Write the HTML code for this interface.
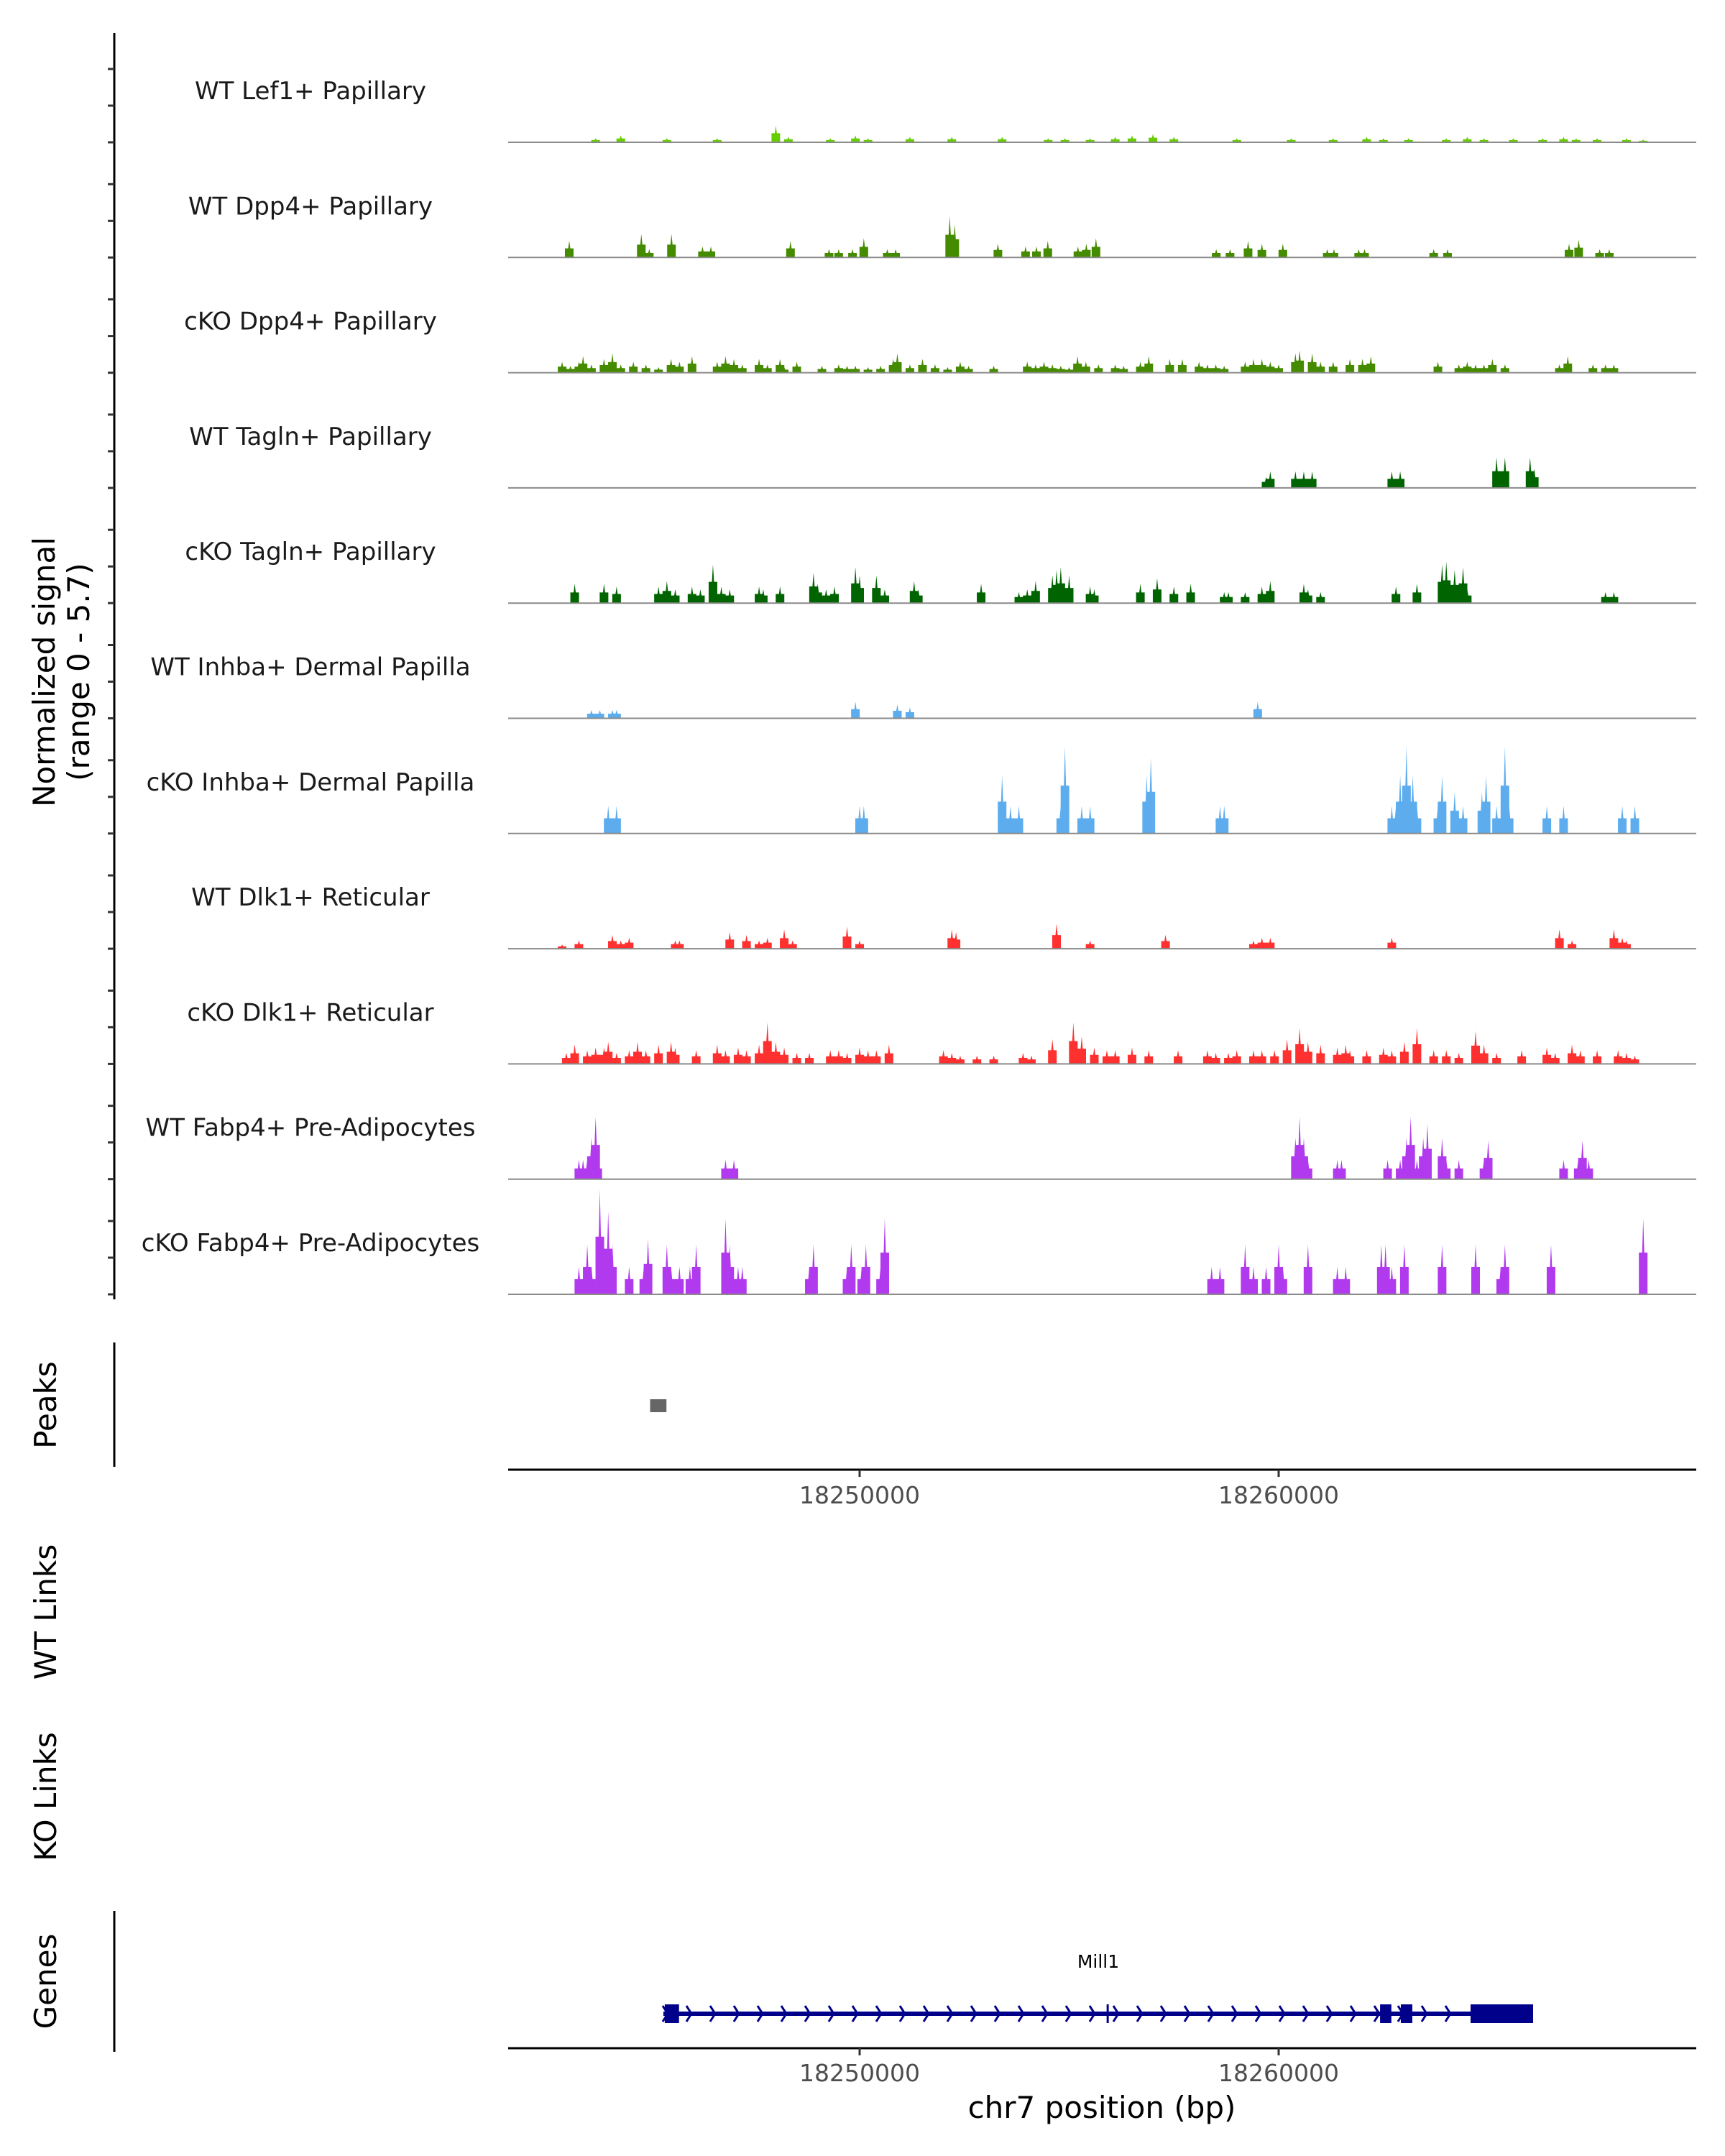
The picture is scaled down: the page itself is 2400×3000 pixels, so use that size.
<!DOCTYPE html>
<html><head><meta charset="utf-8">
<style>
html,body{margin:0;padding:0;background:#fff;}
svg{display:block;font-family:"DejaVu Sans","Liberation Sans",sans-serif;}
</style></head>
<body>
<svg id="chart" width="2400" height="3000" viewBox="0 0 2400 3000" xmlns="http://www.w3.org/2000/svg">
<g id="tracks"></g>
<line x1="159" y1="46" x2="159" y2="1808" stroke="#000" stroke-width="3"/>
<g id="yticks"></g>
<text transform="translate(76,935) rotate(-90)" text-anchor="middle" font-size="42" fill="#000">Normalized signal</text>
<text transform="translate(124,935) rotate(-90)" text-anchor="middle" font-size="42" fill="#000">(range 0 - 5.7)</text>

<line x1="159" y1="1868" x2="159" y2="2041" stroke="#000" stroke-width="3"/>
<text transform="translate(78,1955) rotate(-90)" text-anchor="middle" font-size="42">Peaks</text>
<g id="peaks"></g>
<line x1="707" y1="2045" x2="2360" y2="2045" stroke="#000" stroke-width="3"/>
<g id="xticks1"></g>

<text transform="translate(78,2243) rotate(-90)" text-anchor="middle" font-size="42">WT Links</text>
<text transform="translate(78,2500) rotate(-90)" text-anchor="middle" font-size="42">KO Links</text>

<line x1="159" y1="2659" x2="159" y2="2855" stroke="#000" stroke-width="3"/>
<text transform="translate(78,2757) rotate(-90)" text-anchor="middle" font-size="42">Genes</text>
<g id="genes"></g>
<line x1="707" y1="2850" x2="2360" y2="2850" stroke="#000" stroke-width="3"/>
<g id="xticks2"></g>
<text x="1533" y="2947" text-anchor="middle" font-size="42">chr7 position (bp)</text>
</svg>
<script>
// genomic positions in kb, signal heights in normalized units (0-78 ~ range 0-5.7)
const trackNames = ["WT Lef1+ Papillary","WT Dpp4+ Papillary","cKO Dpp4+ Papillary","WT Tagln+ Papillary","cKO Tagln+ Papillary","WT Inhba+ Dermal Papilla","cKO Inhba+ Dermal Papilla","WT Dlk1+ Reticular","cKO Dlk1+ Reticular","WT Fabp4+ Pre-Adipocytes","cKO Fabp4+ Pre-Adipocytes"];
const trackColors = ["#66cd00","#458b00","#458b00","#006400","#006400","#5cacee","#5cacee","#ff3030","#ff3030","#b23aee","#b23aee"];
const pos0 = [-6.3,-5.7,-4.6,-3.4,-2.0,-1.7,-0.7,-0.1,0.2,1.2,2.2,3.4,4.5,4.9,5.5,6.1,6.5,7.0,7.5,9.0,10.3,11.3,12.1,12.5,13.1,14.0,14.5,14.9,15.6,16.3,16.8,17.1,17.6,18.3,18.7];
const sig0 = [3,5,3,3,12,4,3,5,3,4,4,4,3,3,3,4,5,6,4,3,3,3,4,3,3,3,4,3,3,3,4,3,3,3,2];
const pos1 = [-6.93,-5.21,-5.02,-4.49,-3.75,-3.55,-1.65,-0.73,-0.5,-0.17,0.1,0.66,0.86,2.15,2.27,3.3,3.96,4.22,4.49,5.21,5.41,5.64,8.51,8.84,9.27,9.6,10.1,11.16,11.32,11.91,12.05,13.7,14.03,16.93,17.16,17.66,17.89];
const sig1 = [12,17,6,17,8,8,12,6,6,6,14,6,6,30,24,10,8,8,12,8,10,14,6,6,12,10,10,6,6,6,6,6,6,10,13,6,6];
const pos2 = [-7.1,-6.9,-6.7,-6.6,-6.4,-6.1,-5.9,-5.7,-5.4,-5.1,-4.8,-4.5,-4.3,-4.0,-3.4,-3.2,-3.0,-2.8,-2.4,-2.2,-1.9,-1.8,-1.5,-0.9,-0.5,-0.3,-0.1,0.2,0.5,0.8,0.9,1.2,1.5,1.8,2.1,2.4,2.6,3.2,4.0,4.2,4.4,4.6,4.8,5.0,5.2,5.4,5.7,6.1,6.3,6.7,6.9,7.4,7.7,8.1,8.3,8.5,8.7,9.2,9.4,9.6,9.8,10.0,10.4,10.5,10.8,11.0,11.3,11.7,12.0,12.2,13.8,14.3,14.5,14.7,14.9,15.1,15.4,16.7,16.9,17.5,17.8,18.0];
const sig2 = [8,5,8,12,6,10,14,6,8,6,4,10,8,12,8,12,10,6,10,6,10,4,8,5,6,5,5,4,5,10,14,6,10,6,4,8,5,5,8,6,8,6,5,4,12,8,6,6,5,8,12,10,10,8,6,6,5,8,10,10,8,6,14,16,14,8,8,10,10,12,8,6,8,6,6,10,6,6,12,6,6,6];
const pos3 = [9.7,9.8,10.4,10.6,10.8,12.7,12.9,15.2,15.4,16.0,16.1];
const sig3 = [8,12,12,12,12,12,12,22,22,22,14];
const pos4 = [-6.8,-6.1,-5.8,-4.8,-4.6,-4.4,-4.0,-3.8,-3.5,-3.3,-3.1,-2.4,-2.3,-1.9,-1.1,-1.0,-0.8,-0.6,-0.1,0.0,0.4,0.6,1.3,1.4,2.9,3.8,4.0,4.2,4.6,4.7,4.8,5.0,5.5,5.6,6.7,7.1,7.5,7.9,8.7,8.8,9.2,9.6,9.8,10.6,10.7,11.0,12.8,13.3,13.9,14.0,14.2,14.4,14.5,17.8,18.0];
const sig4 = [14,14,12,12,16,10,12,10,28,12,10,12,10,12,22,14,10,12,26,20,20,10,16,10,14,8,10,16,20,24,26,20,12,10,14,18,12,14,8,8,8,12,16,14,10,8,12,14,28,30,24,26,10,8,8];
const pos5 = [-6.4,-6.2,-5.9,-5.8,-0.1,0.9,1.2,9.5];
const sig5 = [6,6,6,6,12,10,8,12];
const pos6 = [-6.0,-5.8,0.0,0.1,3.4,3.6,3.8,4.8,4.9,5.3,5.5,6.85,6.95,8.6,8.7,12.7,12.8,12.9,13.05,13.2,13.3,13.8,13.9,14.2,14.4,14.85,14.95,15.2,15.4,15.5,16.4,16.8,18.2,18.5];
const sig6 = [20,20,20,20,42,20,20,20,63,20,20,42,55,20,20,20,20,42,63,42,20,20,42,30,20,30,42,20,63,20,20,20,20,20];
const pos7 = [-7.1,-6.7,-5.9,-5.7,-5.5,-4.4,-4.3,-3.1,-2.7,-2.4,-2.2,-1.8,-1.6,-0.3,0.0,2.2,2.3,4.7,5.5,7.3,9.4,9.6,9.8,12.7,16.7,17.0,18.0,18.2,18.3];
const sig7 = [3,6,10,6,8,6,6,12,10,6,8,14,6,16,6,14,12,18,6,10,6,8,8,8,14,6,14,8,6];
const pos8 = [-7.0,-6.8,-6.5,-6.3,-6.1,-6.0,-5.8,-5.5,-5.3,-5.1,-4.8,-4.5,-4.4,-3.9,-3.4,-3.2,-2.9,-2.7,-2.4,-2.2,-2.0,-1.8,-1.5,-1.2,-0.7,-0.5,-0.3,0.0,0.2,0.4,0.7,2.0,2.2,2.4,2.8,3.2,3.9,4.1,4.6,5.1,5.3,5.6,5.9,6.1,6.5,6.9,7.6,8.3,8.5,8.8,9.0,9.4,9.6,9.9,10.2,10.5,10.7,11.0,11.4,11.6,11.7,12.1,12.5,12.7,13.0,13.3,13.7,14.0,14.3,14.7,14.9,15.2,15.8,16.4,16.6,17.0,17.2,17.6,18.1,18.3,18.5];
const sig8 = [8,14,10,12,12,16,8,10,16,10,14,16,12,10,14,10,12,10,14,30,16,12,8,8,10,10,8,12,10,10,14,10,8,6,6,6,8,6,18,30,20,12,10,10,12,10,10,10,8,8,10,10,10,10,18,26,16,14,12,14,10,10,12,10,16,26,10,10,8,24,14,8,10,12,8,14,10,10,10,8,6];
const pos9 = [-6.7,-6.6,-6.5,-6.4,-6.3,-6.25,-3.2,-3.0,10.4,10.5,10.6,10.7,11.4,11.5,12.6,12.9,13.05,13.15,13.3,13.45,13.55,13.9,14.0,14.3,14.9,15.0,16.8,17.15,17.25,17.4];
const sig9 = [14,14,14,30,45,14,14,14,30,45,30,14,14,14,14,14,30,45,14,30,40,30,14,14,14,28,14,14,28,14];
const pos10 = [-6.7,-6.5,-6.4,-6.2,-6.1,-6.0,-5.9,-5.5,-5.15,-5.05,-4.6,-4.5,-4.3,-4.05,-3.9,-3.2,-3.1,-2.9,-2.8,-1.2,-1.1,-0.3,-0.2,0.05,0.15,0.5,0.6,8.4,8.6,9.2,9.4,9.7,10.0,10.1,10.7,11.4,11.6,12.45,12.55,12.7,13.0,13.9,14.7,15.3,15.4,16.5,18.7];
const sig10 = [20,36,20,76,36,60,36,20,20,40,36,20,20,20,36,55,36,20,20,20,36,20,36,20,36,20,55,20,20,36,20,20,36,20,36,20,20,36,36,20,36,36,36,20,36,36,55];
const trackPos = [pos0,pos1,pos2,pos3,pos4,pos5,pos6,pos7,pos8,pos9,pos10];
const trackSig = [sig0,sig1,sig2,sig3,sig4,sig5,sig6,sig7,sig8,sig9,sig10];
const xTicks = [18250000,18260000];
const xTickLabels = ["18250000","18260000"];
const peakStart = [18245000];
const peakEnd = [18245390];
const geneName = "Mill1";
const geneStart = 18245317, geneEnd = 18266072;
const exonStart = [18245350,18262420,18262915,18264580];
const exonEnd = [18245690,18262690,18263190,18266072];
const geneMark = 18255920;

const NS = "http://www.w3.org/2000/svg";
function xbp(bp){ return 1196 + (bp - 18250000) * 0.0583; }
function xkb(kb){ return xbp(18250000 + kb * 1000); }
function base(i){ return 198 + i * 160.3; }
function ysig(v, i){ return base(i) - v * 1.92; }
function mk(tag, attrs, parent){ const e = document.createElementNS(NS, tag); for (const k in attrs) e.setAttribute(k, attrs[k]); parent.appendChild(e); return e; }

const gT = document.getElementById('tracks');
const gY = document.getElementById('yticks');
for (let i = 0; i < trackNames.length; i++) {
  const g = mk('g', {}, gT);
  
  
  const lab = mk('text', {x: 432, y: base(i) - 60, 'text-anchor': 'middle', 'font-size': 34, fill: '#1a1a1a'}, g);
  lab.textContent = trackNames[i];
  
  
  const ps = trackPos[i], ss = trackSig[i];
  for (let j = 0; j < ps.length; j++) {
    const x = xkb(ps[j]), b = base(i), top = ysig(ss[j], i), mid = ysig(ss[j] * 0.55, i), w = 12;
    const p = mk('polygon', {points: `${x-w/2},${b} ${x-w/2},${mid} ${x-1.5},${mid} ${x},${top} ${x+1.5},${mid} ${x+w/2},${mid} ${x+w/2},${b}`, fill: trackColors[i]}, g);
    
    
  }
  const bl = mk('line', {x1: 707, x2: 2360, y1: base(i), y2: base(i), stroke: '#8a8a8a', 'stroke-width': 2}, g);
  
  
  for (let k = 0; k < 3; k++) {
    const yy = base(i) - k * 51;
    const t = mk('line', {x1: 150, x2: 159, y1: yy, y2: yy, stroke: '#333', 'stroke-width': 3}, gY);
    
    
  }
}

const gP = document.getElementById('peaks');
for (let j = 0; j < peakStart.length; j++) {
  const r = mk('rect', {x: xbp(peakStart[j]), y: 1947, width: xbp(peakEnd[j]) - xbp(peakStart[j]), height: 18, fill: '#666'}, gP);
  
  
}

function drawTicks(id, yAxis, yLab){
  const g = document.getElementById(id);
  for (let j = 0; j < xTicks.length; j++) {
    const x = xbp(xTicks[j]);
    const t = mk('line', {x1: x, x2: x, y1: yAxis, y2: yAxis + 10, stroke: '#333', 'stroke-width': 3}, g);
    
    
    const l = mk('text', {x: x, y: yLab, 'text-anchor': 'middle', 'font-size': 33, fill: '#4d4d4d'}, g);
    l.textContent = xTickLabels[j];
    
    
  }
}
drawTicks('xticks1', 2045, 2092);
drawTicks('xticks2', 2850, 2896);

const gG = document.getElementById('genes');
const gy = 2802;
const gl = mk('line', {x1: xbp(geneStart), x2: xbp(geneEnd), y1: gy, y2: gy, stroke: '#00008b', 'stroke-width': 6}, gG);


for (let x = xbp(geneStart) + 2; x < xbp(exonStart[3]) - 4; x += 33) {
  const c = mk('polyline', {points: `${x-3},${gy-11} ${x+4},${gy} ${x-3},${gy+11}`, fill: 'none', stroke: '#00008b', 'stroke-width': 3}, gG);
  
  
}
for (let j = 0; j < exonStart.length; j++) {
  const r = mk('rect', {x: xbp(exonStart[j]), y: gy - 13, width: xbp(exonEnd[j]) - xbp(exonStart[j]), height: 26, fill: '#00008b'}, gG);
  
  
}
const gm = mk('line', {x1: xbp(geneMark), x2: xbp(geneMark), y1: gy - 13, y2: gy + 13, stroke: '#00008b', 'stroke-width': 3}, gG);


const gn = mk('text', {x: (xbp(geneStart) + xbp(geneEnd)) / 2, y: 2738, 'text-anchor': 'middle', 'font-size': 25, fill: '#000'}, gG);
gn.textContent = geneName;


</script>
</body></html>
